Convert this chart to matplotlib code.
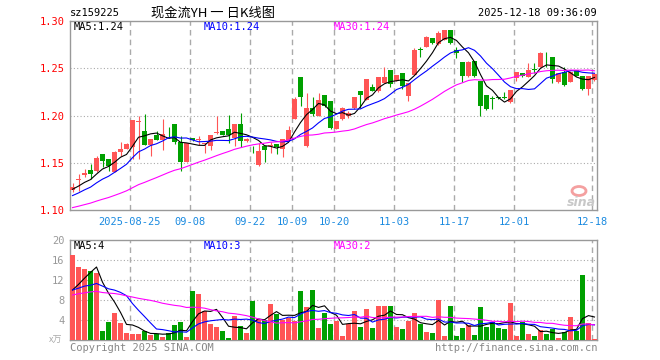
import numpy as np
import matplotlib
matplotlib.use('Agg')
import matplotlib.pyplot as plt
from matplotlib.patches import Ellipse

# ---- values ----
tick_index = [10, 20, 30, 37, 44, 54, 64, 74, 87]
tick_labels = ['2025-08-25', '09-08', '09-22', '10-09', '10-20',
               '11-03', '11-17', '12-01', '12-18']

opens = [1.1210, 1.1322, 1.1368, 1.1427, 1.1408, 1.1594, 1.1542, 1.1403, 1.1615, 1.1646,
         1.1668, 1.1935, 1.1832, 1.1689, 1.1790, 1.1743, 1.1815, 1.1906, 1.1722, 1.1510,
         1.1766, 1.1742, 1.1700, 1.1678, 1.1820, 1.1838, 1.1854, 1.1760, 1.1906, 1.1730,
         1.1668, 1.1472, 1.1675, 1.1675, 1.1698, 1.1646, 1.1735, 1.1958, 1.2405, 1.1674,
         1.2080, 1.1993, 1.2220, 1.2155, 1.1862, 1.1960, 1.1990, 1.2078, 1.2256, 1.2163,
         1.2305, 1.2255, 1.2340, 1.2482, 1.2369, 1.2447, 1.2210, 1.2430, 1.2702, 1.2723,
         1.2818, 1.2755, 1.2797, 1.2903, 1.2690, 1.2565, 1.2417, 1.2578, 1.2365, 1.2213,
         1.2185, 1.2192, 1.2200, 1.2142, 1.2400, 1.2454, 1.2408, 1.2484, 1.2518, 1.2642,
         1.2620, 1.2350, 1.2461, 1.2355, 1.2482, 1.2418, 1.2277, 1.2376]
highs = [1.1290, 1.1380, 1.1437, 1.1490, 1.1570, 1.1594, 1.1542, 1.1625, 1.1715, 1.1705,
         1.1948, 1.1993, 1.2021, 1.1755, 1.1840, 1.1960, 1.1880, 1.1906, 1.1778, 1.1712,
         1.1766, 1.1785, 1.1714, 1.1792, 1.2000, 1.1838, 1.2010, 1.1906, 1.2025, 1.1760,
         1.1680, 1.1708, 1.1675, 1.1715, 1.1698, 1.1750, 1.1889, 1.2194, 1.2405, 1.2236,
         1.2194, 1.2243, 1.2220, 1.2155, 1.1943, 1.2090, 1.2050, 1.2193, 1.2256, 1.2387,
         1.2335, 1.2405, 1.2518, 1.2482, 1.2433, 1.2447, 1.2340, 1.2713, 1.2730, 1.2845,
         1.2818, 1.2895, 1.2903, 1.2903, 1.2726, 1.2565, 1.2578, 1.2578, 1.2365, 1.2213,
         1.2206, 1.2200, 1.2248, 1.2270, 1.2460, 1.2454, 1.2560, 1.2560, 1.2677, 1.2667,
         1.2620, 1.2454, 1.2518, 1.2475, 1.2482, 1.2418, 1.2418, 1.2454]
lows = [1.1190, 1.1205, 1.1350, 1.1330, 1.1403, 1.1455, 1.1410, 1.1403, 1.1576, 1.1646,
        1.1542, 1.1542, 1.1685, 1.1576, 1.1740, 1.1635, 1.1760, 1.1695, 1.1410, 1.1505,
        1.1730, 1.1690, 1.1605, 1.1640, 1.1800, 1.1790, 1.1705, 1.1674, 1.1668, 1.1720,
        1.1604, 1.1465, 1.1505, 1.1604, 1.1594, 1.1559, 1.1735, 1.1958, 1.2097, 1.1663,
        1.2000, 1.1990, 1.2095, 1.1860, 1.1855, 1.1957, 1.1975, 1.2070, 1.2078, 1.2163,
        1.2255, 1.2248, 1.2340, 1.2300, 1.2362, 1.2280, 1.2150, 1.2430, 1.2624, 1.2723,
        1.2760, 1.2750, 1.2795, 1.2760, 1.2610, 1.2350, 1.2410, 1.2410, 1.1993, 1.2060,
        1.2064, 1.2175, 1.2175, 1.2130, 1.2365, 1.2410, 1.2408, 1.2454, 1.2510, 1.2518,
        1.2348, 1.2345, 1.2310, 1.2350, 1.2415, 1.2265, 1.2220, 1.2370]
closes = [1.1247, 1.1328, 1.1396, 1.1378, 1.1552, 1.1515, 1.1463, 1.1615, 1.1646, 1.1700,
          1.1948, 1.1941, 1.1689, 1.1750, 1.1743, 1.1802, 1.1810, 1.1722, 1.1505, 1.1712,
          1.1740, 1.1746, 1.1714, 1.1792, 1.1826, 1.1797, 1.1795, 1.1906, 1.1728, 1.1755,
          1.1663, 1.1628, 1.1630, 1.1692, 1.1665, 1.1750, 1.1844, 1.2175, 1.2195, 1.2080,
          1.2021, 1.2167, 1.2100, 1.1865, 1.1943, 1.2078, 1.2030, 1.2193, 1.2220, 1.2387,
          1.2262, 1.2405, 1.2405, 1.2333, 1.2433, 1.2316, 1.2340, 1.2695, 1.2697, 1.2829,
          1.2765, 1.2871, 1.2903, 1.2766, 1.2665, 1.2417, 1.2568, 1.2418, 1.2100, 1.2064,
          1.2178, 1.2188, 1.2180, 1.2270, 1.2460, 1.2420, 1.2479, 1.2480, 1.2660, 1.2638,
          1.2388, 1.2450, 1.2320, 1.2461, 1.2418, 1.2277, 1.2418, 1.2440]
# volume in 10k units
volumes = [17.0, 14.6, 14.2, 13.8, 13.4, 1.8, 3.6, 5.4, 3.4, 1.4,
           1.2, 1.2, 1.8, 1.0, 1.2, 0.6, 1.4, 3.0, 3.6, 0.6,
           9.8, 9.2, 5.8, 3.2, 2.6, 1.8, 0.4, 4.8, 2.8, 1.4,
           7.8, 4.2, 4.0, 7.2, 5.2, 4.0, 4.4, 3.8, 9.8, 6.6,
           10.0, 2.4, 5.4, 3.2, 3.8, 0.8, 3.2, 5.8, 2.6, 6.2,
           2.4, 6.8, 6.8, 6.8, 2.7, 2.2, 3.8, 5.4, 3.2, 1.6,
           1.4, 8.0, 0.8, 6.8, 0.8, 2.4, 3.0, 1.0, 6.6, 2.6,
           3.6, 2.4, 2.2, 7.4, 0.8, 3.6, 1.2, 0.8, 2.0, 1.2,
           2.2, 0.4, 1.6, 4.6, 1.8, 13.0, 3.4, 0.2]

# estimated history before the first visible day (only used to warm up the MAs)
prior_closes = [1.088, 1.090, 1.089, 1.091, 1.093, 1.092, 1.094, 1.095, 1.094, 1.096,
                1.097, 1.098, 1.097, 1.099, 1.100, 1.101, 1.100, 1.102, 1.104, 1.103,
                1.105, 1.107, 1.109, 1.110, 1.112, 1.116, 1.120, 1.123, 1.126]
prior_volumes = [7, 9, 8, 10, 9, 7, 8, 9, 10, 8, 9, 8, 7, 9, 10, 8, 9, 8, 9, 8,
                 11, 10, 12, 10, 7, 9, 8, 8, 8]

ma_price_text = ['MA5:1.24', 'MA10:1.24', 'MA30:1.24']
ma_vol_text = ['MA5:4', 'MA10:3', 'MA30:2']

RED = '#ff5555'
GREEN = '#00a000'
MA_COLORS = ['black', '#0000ff', '#ff00ff']
GRID = '#aaaaaa'
MONO = 'DejaVu Sans Mono'
CJK = ['Noto Sans CJK SC', 'DejaVu Sans']

W, H = 660, 360


def moving_avg(values, prior, n):
    full = np.array(list(prior) + list(values), dtype=float)
    out = np.convolve(full, np.ones(n) / n, mode='valid')
    return out[-len(values):]


def px(x, y):
    return x / W, 1 - y / H


o = np.array(opens)
c = np.array(closes)
x = np.arange(len(opens))
up = c >= o
colours = np.where(up, RED, GREEN)

fig = plt.figure(figsize=(W / 100, H / 100), dpi=100)
axp = fig.add_axes([70 / W, 150 / H, 527 / W, 189 / H])
axv = fig.add_axes([70 / W, 20 / H, 527 / W, 100 / H])

xlim = (-0.42, len(x) - 1 + 0.42)

# price panel
axp.vlines(x, lows, highs, colors=colours, lw=0.8, zorder=2)
body_bottom = np.minimum(o, c)
body_height = np.maximum(np.abs(c - o), 0.0007)
axp.bar(x, body_height, bottom=body_bottom, width=0.82, color=colours,
        linewidth=0, zorder=3)
for n, col in zip([5, 10, 30], MA_COLORS):
    axp.plot(x, moving_avg(closes, prior_closes, n), color=col, lw=0.8, zorder=4)

axp.set_ylim(1.10, 1.30)
axp.set_yticks([1.10, 1.15, 1.20, 1.25, 1.30])
axp.set_yticklabels(['1.10', '1.15', '1.20', '1.25', '1.30'], color='#ff0000',
                    family=MONO, fontsize=7.5)
for yv in [1.15, 1.20, 1.25]:
    axp.axhline(yv, color=GRID, lw=0.8, ls=(0, (1, 2)), zorder=1)

grid_x = [i - 0.42 for i in tick_index]
axp.set_xticks(grid_x)
axp.set_xticklabels(tick_labels, color='#1a8ae0', family=MONO, fontsize=7.5)
axp.tick_params(axis='x', length=0, pad=5)
axp.tick_params(axis='y', length=0, pad=4)

# volume panel
axv.bar(x, volumes, width=0.82, color=colours, linewidth=0, zorder=3)
for n, col in zip([5, 10, 30], MA_COLORS):
    axv.plot(x, moving_avg(volumes, prior_volumes, n), color=col, lw=0.8, zorder=4)
axv.set_ylim(0, 20)
axv.set_yticks([4, 8, 12, 16, 20])
axv.set_yticklabels(['4', '8', '12', '16', '20'], color='#999999',
                    family=MONO, fontsize=7.5)
axv.tick_params(axis='y', length=0, pad=4)
axv.set_xticks([])
for yv in [4, 8, 12, 16]:
    axv.axhline(yv, color=GRID, lw=0.8, ls=(0, (1, 2)), zorder=1)

for ax in (axp, axv):
    ax.set_xlim(*xlim)
    for gx in grid_x:
        ax.axvline(gx, color=GRID, lw=1, ls=(0, (4, 3)), zorder=1)
    for s in ax.spines.values():
        s.set_color('#999999')
        s.set_linewidth(1)

# MA legends inside the panels
for (xp, txt, col) in zip([74, 204, 334], ma_price_text, MA_COLORS):
    fig.text(*px(xp, 27), txt, color=col, family=MONO, fontsize=7.5, va='center')
for (xp, txt, col) in zip([74, 204, 334], ma_vol_text, MA_COLORS):
    fig.text(*px(xp, 246), txt, color=col, family=MONO, fontsize=7.5, va='center')

# header
fig.text(*px(70, 13), 'sz159225', family=MONO, fontsize=7.5, va='center')
fig.text(*px(213, 13), '现金流YH 一 日K线图', family=CJK, fontsize=9.5,
         ha='center', va='center')
fig.text(*px(597, 13), '2025-12-18 09:36:09', family=MONO, fontsize=7.5,
         ha='right', va='center')

# footer
fig.text(*px(56, 340), 'x万', family=CJK, fontsize=6.5, color='#aaaaaa',
         ha='center', va='center')
fig.text(*px(70, 348), 'Copyright 2025 SINA.COM', family=MONO, fontsize=7.5,
         color='#888888', va='center')
fig.text(*px(597, 348), 'http://finance.sina.com.cn', family=MONO, fontsize=7.5,
         color='#888888', ha='right', va='center')

# sina watermark
fig.patches.append(Ellipse(px(579, 191), 14 / W, 9 / H, transform=fig.transFigure,
                           facecolor='none', edgecolor='#f4a0a0', lw=2))
fig.text(*px(581, 203), 'sina', family='DejaVu Sans', fontsize=9, style='italic',
         weight='bold', color='#c8c8c8', ha='center', va='center')

fig.savefig('out.png', dpi=100)
